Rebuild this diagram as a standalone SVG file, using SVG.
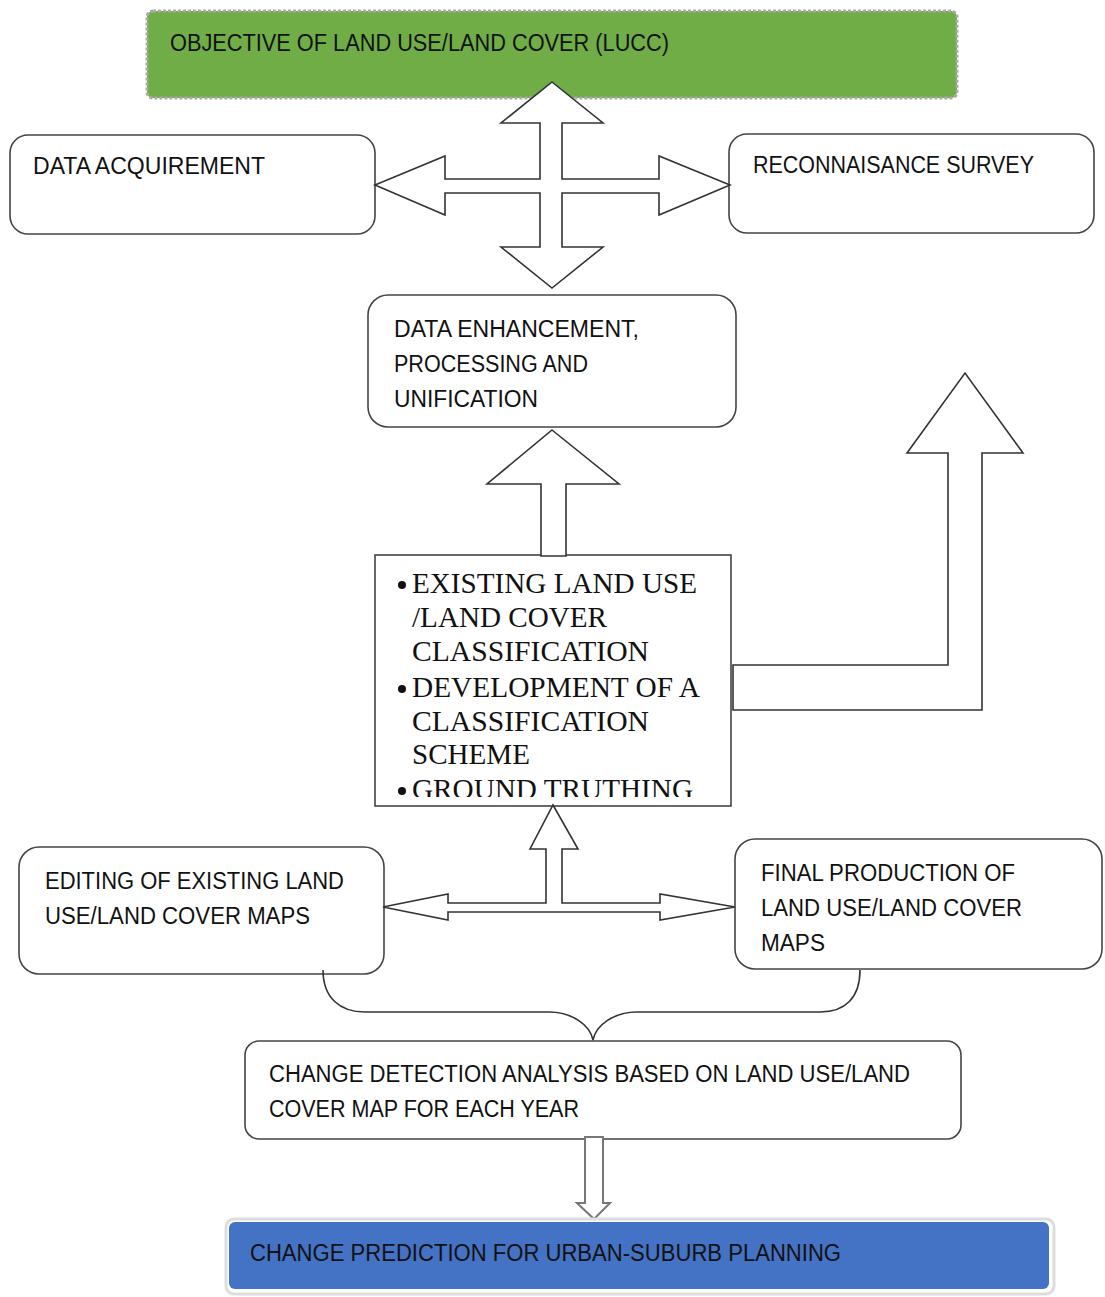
<svg xmlns="http://www.w3.org/2000/svg" width="1105" height="1297" viewBox="0 0 1105 1297">
<style>
.box{fill:#fff;stroke:#444;stroke-width:1.6}
.arr{fill:#fff;stroke:#333;stroke-width:1.6;stroke-linejoin:miter}
.t{font-family:"Liberation Sans",Arial,sans-serif;font-size:23px;fill:#111}
.s{font-family:"Liberation Serif","Times New Roman",serif;font-size:29px;fill:#111}
</style>
<defs>
<clipPath id="clipC"><rect x="376" y="556" width="354" height="241"/></clipPath>
</defs>
<rect width="1105" height="1297" fill="#fff"/>
<g id="objective">
<rect x="147" y="11" width="810" height="87" rx="6" fill="#70AD47" stroke="#aaa" stroke-width="3" stroke-dasharray="3 2"/>
<text class="t" x="170" y="51" textLength="499" lengthAdjust="spacingAndGlyphs">OBJECTIVE OF LAND USE/LAND COVER (LUCC)</text>
</g>
<g id="data-acquirement">
<rect class="box" x="10" y="135" width="365" height="99" rx="18"/>
<text class="t" x="33" y="174" textLength="232" lengthAdjust="spacingAndGlyphs">DATA ACQUIREMENT</text>
</g>
<g id="reconnaisance">
<rect class="box" x="729" y="134" width="365" height="99" rx="18"/>
<text class="t" x="753" y="173" textLength="281" lengthAdjust="spacingAndGlyphs">RECONNAISANCE SURVEY</text>
</g>
<g id="data-enhancement">
<rect class="box" x="368" y="295" width="368" height="132" rx="20"/>
<text class="t" x="394" y="337" textLength="245" lengthAdjust="spacingAndGlyphs">DATA ENHANCEMENT,</text>
<text class="t" x="394" y="372" textLength="194" lengthAdjust="spacingAndGlyphs">PROCESSING AND</text>
<text class="t" x="394" y="407" textLength="144" lengthAdjust="spacingAndGlyphs">UNIFICATION</text>
</g>
<g id="classification">
<rect x="375" y="555" width="356" height="251" fill="#fff" stroke="#444" stroke-width="1.6"/>
<g clip-path="url(#clipC)">
<circle cx="402" cy="585" r="4" fill="#111"/>
<text class="s" x="412" y="593" textLength="285" lengthAdjust="spacingAndGlyphs">EXISTING LAND USE</text>
<text class="s" x="412" y="627" textLength="195" lengthAdjust="spacingAndGlyphs">/LAND COVER</text>
<text class="s" x="412" y="661" textLength="237" lengthAdjust="spacingAndGlyphs">CLASSIFICATION</text>
<circle cx="402" cy="689" r="4" fill="#111"/>
<text class="s" x="412" y="697" textLength="288" lengthAdjust="spacingAndGlyphs">DEVELOPMENT OF A</text>
<text class="s" x="412" y="731" textLength="237" lengthAdjust="spacingAndGlyphs">CLASSIFICATION</text>
<text class="s" x="412" y="764" textLength="118" lengthAdjust="spacingAndGlyphs">SCHEME</text>
<circle cx="402" cy="791" r="4" fill="#111"/>
<text class="s" x="412" y="799" textLength="281" lengthAdjust="spacingAndGlyphs">GROUND TRUTHING</text>
</g>
</g>
<g id="editing">
<rect class="box" x="19" y="847" width="365" height="127" rx="20"/>
<text class="t" x="45" y="889" textLength="299" lengthAdjust="spacingAndGlyphs">EDITING OF EXISTING LAND</text>
<text class="t" x="45" y="924" textLength="265" lengthAdjust="spacingAndGlyphs">USE/LAND COVER MAPS</text>
</g>
<g id="final-production">
<rect class="box" x="735" y="839" width="367" height="130" rx="20"/>
<text class="t" x="761" y="881" textLength="254" lengthAdjust="spacingAndGlyphs">FINAL PRODUCTION OF</text>
<text class="t" x="761" y="916" textLength="261" lengthAdjust="spacingAndGlyphs">LAND USE/LAND COVER</text>
<text class="t" x="761" y="951" textLength="64" lengthAdjust="spacingAndGlyphs">MAPS</text>
</g>
<g id="change-detection">
<rect class="box" x="245" y="1041" width="716" height="98" rx="14"/>
<text class="t" x="269" y="1082" textLength="641" lengthAdjust="spacingAndGlyphs">CHANGE DETECTION ANALYSIS BASED ON LAND USE/LAND</text>
<text class="t" x="269" y="1117" textLength="310" lengthAdjust="spacingAndGlyphs">COVER MAP FOR EACH YEAR</text>
</g>
<g id="connectors">
<polygon class="arr" points="552,82 603,123 562,123 562,179 659,179 659,156 730,185 659,215 659,193 562,193 562,247 603,247 552,288 501,247 540,247 540,193 445,193 445,215 375,185 445,156 445,179 540,179 540,123 501,123"/>
<polygon class="arr" points="552,430 619,484 566,484 566,556 541,556 541,484 487,484"/>
<polygon class="arr" points="733,665 948,665 948,453 907,453 965,373 1023,453 982,453 982,710 733,710"/>
<polygon class="arr" points="553,805 578,849 562,849 562,903 660,903 660,894 735,907 660,920 660,912 448,912 448,920 383,907 448,894 448,903 546,903 546,849 530,849"/>
<path d="M323,970 C323,998 340,1012 365,1012 L549,1012 C572,1012 590,1025 593,1040 C596,1025 614,1012 637,1012 L820,1012 C845,1012 860,998 860,970" fill="none" stroke="#333" stroke-width="1.6"/>
<polygon points="585,1137 603,1137 603,1203 610,1203 594,1219 577,1203 585,1203" fill="#fff" stroke="#777" stroke-width="2"/>
</g>
<g id="change-prediction">
<rect x="226" y="1219" width="828" height="75" rx="8" fill="#fff" stroke="#ddd" stroke-width="3"/>
<rect x="229" y="1222" width="820" height="67" rx="6" fill="#4472C4"/>
<text class="t" x="250" y="1261" textLength="591" lengthAdjust="spacingAndGlyphs">CHANGE PREDICTION FOR URBAN-SUBURB PLANNING</text>
</g>
</svg>
